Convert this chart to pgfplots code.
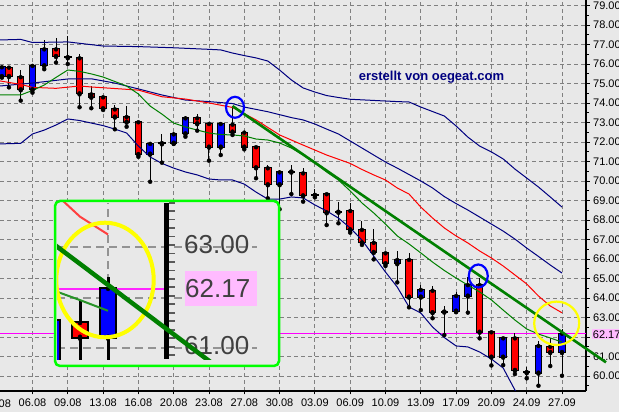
\documentclass[border=0pt]{standalone}
\usepackage{fontspec}
\setmainfont{Liberation Sans}
\usepackage{pgfplots}
\usepackage{pgfplotstable}
\pgfplotsset{compat=1.18}

\definecolor{bg}{RGB}{232,232,232}
\definecolor{navyc}{RGB}{0,0,128}
\definecolor{gridc}{RGB}{128,128,128}
\definecolor{grn}{RGB}{0,128,0}
\definecolor{magc}{RGB}{255,0,255}
\definecolor{pinkc}{RGB}{255,187,255}
\definecolor{lime}{RGB}{0,255,0}
\definecolor{yel}{RGB}{255,255,0}
\definecolor{cblue}{RGB}{0,0,255}
\definecolor{cred}{RGB}{255,0,0}
\definecolor{insettxt}{RGB}{64,64,64}

% candles: index, open, high, low, close
\pgfplotstableread{
i o h l c
-2.6 75.38 75.90 75.30 75.83
-2 75.81 75.83 74.80 75.38
-1 75.32 75.69 74.12 74.70
0 74.70 75.95 74.53 75.90
1 75.93 77.23 75.73 76.75
2 76.75 77.32 76.07 76.41
3 76.34 77.43 76.00 76.34
4 76.29 76.51 73.78 74.49
5 74.44 74.87 73.73 74.32
6 74.29 74.29 73.64 73.73
7 73.67 73.88 72.65 73.30
8 73.28 73.84 72.78 73.04
9 73.01 73.10 71.24 71.38
10 71.40 72.01 69.96 71.90
11 71.93 72.41 70.94 71.93
12 71.96 72.53 71.90 72.39
13 72.44 73.33 72.27 73.21
14 73.21 73.42 72.58 72.96
15 72.92 72.92 71.04 71.76
16 71.76 73.04 71.33 72.92
17 72.89 73.84 72.36 72.53
18 72.48 72.58 71.62 71.76
19 71.73 71.79 70.14 70.70
20 70.65 70.82 69.11 69.83
21 69.83 70.56 68.55 70.44
22 70.48 70.82 69.33 70.48
23 70.39 70.65 68.94 69.26
24 69.28 69.57 69.16 69.28
25 69.32 69.40 67.74 68.39
26 68.42 68.94 67.83 68.42
27 68.46 68.85 67.35 67.52
28 67.49 67.95 66.72 66.85
29 66.83 67.54 65.98 66.36
30 66.29 66.29 65.64 65.78
31 65.78 66.41 64.80 65.95
32 65.95 66.29 63.52 64.07
33 64.07 64.67 63.38 64.41
34 64.37 64.62 62.96 63.27
35 63.30 63.59 62.10 63.30
36 63.35 64.32 63.27 64.10
37 64.12 65.09 63.25 64.66
38 64.66 65.04 61.93 62.27
39 62.24 62.24 60.54 60.99
40 60.99 61.95 60.56 61.93
41 61.93 62.19 60.10 60.31
42 60.19 60.45 59.88 60.19
43 60.17 61.80 59.50 61.54
44 61.50 61.95 60.51 61.23
45 61.23 62.40 60.01 62.17
}\candles

% upper band
\pgfplotstableread{
i p
-2.76 77.23
-1 77.26
0 77.10
3 77.13
6 76.92
9 76.89
12 76.83
15 76.75
16 76.72
17 76.56
18 76.43
19 76.31
20 76.15
21 75.69
22 75.18
23 74.77
24 74.56
25 74.38
26 74.28
27 74.19
29 74.13
31 74.07
32 74.05
33 73.79
34 73.56
35 73.33
36 72.82
37 72.25
38 71.79
39 71.49
40 71.13
41 70.61
42 70.15
43 69.69
44 69.18
45 68.66
}\bandup

% middle band
\pgfplotstableread{
i p
-2.76 74.87
0 75.02
3 75.23
5 75.24
7 75.02
9 74.72
11 74.41
13 74.15
15 74.07
17 73.97
18 73.79
20 73.55
22 73.25
23 73.13
24 72.92
25 72.66
26 72.41
27 72.05
28 71.69
29 71.33
30 70.97
31 70.66
32 70.33
33 70.00
34 69.64
35 69.20
36 68.84
37 68.51
38 68.15
39 67.79
40 67.43
41 67.02
42 66.56
43 66.13
44 65.69
45 65.28
}\bandmid

% lower band
\pgfplotstableread{
i p
-2.76 71.90
-1 71.93
0 72.41
1 72.61
2 72.87
3 73.18
4 73.10
5 72.97
6 72.84
7 72.66
8 72.46
9 71.79
10 71.23
11 70.90
12 70.66
13 70.46
14 70.31
15 70.10
16 70.05
17 70.05
18 69.84
19 69.43
20 69.07
21 69.07
22 69.18
23 69.13
24 68.77
25 68.46
26 68.10
27 67.59
28 66.97
29 66.15
30 65.33
31 64.56
32 63.54
33 63.23
34 62.51
35 61.97
36 61.54
37 61.49
38 61.23
39 60.87
40 60.41
41 59.28
41.05 59.23
}\bandlow

% red moving average
\pgfplotstableread{
i p
-2.76 75.13
-1 74.95
0 74.80
2 74.75
4 74.87
5 74.82
7 74.74
9 74.66
11 74.32
13 74.20
15 74.00
17 73.77
19 73.13
21 72.36
23 71.84
25 71.33
27 70.90
28 70.59
29 70.31
30 70.05
31 69.64
32 69.33
33 68.66
34 68.10
35 67.59
36 67.18
37 66.82
38 66.41
39 66.05
40 65.64
41 65.18
42 64.72
43 64.10
44 63.59
45 63.24
}\redma

% green moving average
\pgfplotstableread{
i p
-2.76 74.41
-1 74.41
0 74.64
1 74.92
2 75.31
3 75.69
4 75.62
5 75.49
6 75.33
7 75.10
8 74.87
9 74.46
10 73.84
11 73.43
12 72.97
13 72.77
14 72.61
15 72.46
16 72.38
17 72.36
18 72.31
19 72.15
20 72.10
21 71.95
22 71.69
23 71.33
24 70.92
25 70.46
26 70.05
27 69.49
28 68.87
29 68.36
30 67.79
31 67.18
32 66.77
33 66.31
34 65.84
35 65.41
36 65.02
37 64.66
38 64.31
39 63.90
40 63.38
41 62.87
42 62.41
43 62.15
44 61.95
45 61.74
}\greenma

% trend line
\pgfplotstableread{
i p
17 73.84
48.74 60.70
}\trend

% support line
\pgfplotstableread{
i p
-2.76 62.178
47.04 62.178
}\support

\pgfplotsset{
  wicks/.style={only marks, mark=none,
    error bars/.cd, y dir=plus, y explicit, error mark=none,
    error bar style={black, line width=#1}},
  bodies/.style 2 args={only marks, mark=none,
    error bars/.cd, y dir=plus, y explicit, error mark=none,
    error bar style={#1, line width=#2}},
}

\begin{document}
\begin{tikzpicture}
\path[use as bounding box] (0,0) rectangle (619bp,412bp);
\fill[bg] (0,0) rectangle (619bp,412bp);

\begin{axis}[
  at={(0,21bp)}, anchor=south west,
  scale only axis, width=586bp, height=391bp,
  xmin=-2.76, xmax=47.04, ymin=59.23, ymax=79.28,
  axis x line*=bottom, axis y line*=right,
  axis line style={line width=2.6bp, black},
  xtick={0,3,...,45},
  xticklabels={06.08,09.08,13.08,16.08,20.08,23.08,27.08,30.08,03.09,06.09,10.09,13.09,17.09,20.09,24.09,27.09},
  ytick={60,61,...,79},
  yticklabels={60.00,61.00,{},63.00,64.00,65.00,66.00,67.00,68.00,69.00,70.00,71.00,72.00,73.00,74.00,75.00,76.00,77.00,78.00,79.00},
  minor ytick={59.5,60.5,...,78.5},
  tick align=outside,
  major tick length=3.5bp, minor tick length=3bp,
  tick style={black, line width=0.8bp},
  tick label style={font=\fontsize{11bp}{13bp}\selectfont, text=black},
  xticklabel style={anchor=north, inner sep=0pt, yshift=-4.5bp},
  yticklabel style={anchor=west, inner sep=0pt, xshift=3.5bp},
  grid=major,
  major grid style={gridc, line width=0.8bp, dash pattern=on 4bp off 3bp},
]
\addplot[draw=magc, line width=1.3bp] table[x=i, y=p] {\support};
% wicks
\addplot[wicks=1bp] table[x=i, y=l, y error plus expr={\thisrow{h}-\thisrow{l}}] {\candles};
% black body outline
\addplot[bodies={black}{7.5bp}] table[x=i, y expr={min(\thisrow{o},\thisrow{c})-0.05}, y error plus expr={abs(\thisrow{c}-\thisrow{o})+0.1}] {\candles};
% red bodies
\addplot[bodies={cred}{5.5bp}] table[x=i, y=c, y error plus expr={max(\thisrow{o}-\thisrow{c},0)}] {\candles};
% blue bodies
\addplot[bodies={cblue}{5.5bp}] table[x=i, y=o, y error plus expr={max(\thisrow{c}-\thisrow{o},0)}] {\candles};
% bands and averages
\addplot[navyc, line width=1bp] table[x=i, y=p] {\bandup};
\addplot[navyc, line width=1bp] table[x=i, y=p] {\bandmid};
\addplot[navyc, line width=1bp] table[x=i, y=p] {\bandlow};
\addplot[cred, line width=1bp] table[x=i, y=p] {\redma};
\addplot[grn, line width=1bp] table[x=i, y=p] {\greenma};
\end{axis}

% trend line, running past the price axis
\begin{axis}[
  at={(0,21bp)}, anchor=south west,
  scale only axis, width=586bp, height=391bp,
  xmin=-2.76, xmax=47.04, ymin=59.23, ymax=79.28,
  hide axis, clip=false,
]
\addplot[grn, line width=2.6bp] table[x=i, y=p] {\trend};
\end{axis}

\begin{scope}[x=1bp, y=-1bp, yshift=412bp]
  \node[anchor=center, inner sep=0pt, font=\fontsize{11bp}{13bp}\selectfont] at (-2.8,403.3) {02.08};
  \draw[cblue, line width=2.2bp] (235,107.3) ellipse [x radius=9, y radius=10.5];
  \draw[cblue, line width=2.2bp] (478.3,276) ellipse [x radius=9.5, y radius=11.5];
  \draw[yel, line width=2.2bp] (556.7,323.3) ellipse [x radius=22.5, y radius=21.7];
  \fill[pinkc] (591.7,329.3) rectangle (622,339.3);
  \node[anchor=west, inner sep=0pt, font=\fontsize{11bp}{13bp}\selectfont] at (592.7,334.3) {62.17};
  \node[anchor=base west, inner sep=0pt, text=navyc, font=\bfseries\fontsize{13bp}{15bp}\selectfont] at (358.7,80.7) {erstellt von oegeat.com};
  % inset background
  \fill[bg, rounded corners=5] (55,201) rectangle (279,366);
\end{scope}

% inset: magnified view of the last candles
\begin{axis}[
  at={(57bp,52bp)}, anchor=south west,
  scale only axis, width=200bp, height=157bp,
  xmin=43.179, xmax=50.321, ymin=60.772, ymax=63.859,
  axis line style={draw=none}, tick style={draw=none},
  xtick={45}, ytick={61,62,63}, xticklabels={}, yticklabels={},
  grid=major,
  major grid style={gridc!85!white, line width=2bp, dash pattern=on 8bp off 5bp},
]
\addplot[draw=magc!85!white, line width=2.5bp] coordinates {(43,62.17) (47.1,62.17)};
\addplot[wicks=3bp] table[x=i, y=l, y error plus expr={\thisrow{h}-\thisrow{l}}] {\candles};
\addplot[bodies={black}{17.5bp}] table[x=i, y expr={min(\thisrow{o},\thisrow{c})-0.04}, y error plus expr={abs(\thisrow{c}-\thisrow{o})+0.08}] {\candles};
\addplot[bodies={cred}{13.5bp}] table[x=i, y=c, y error plus expr={max(\thisrow{o}-\thisrow{c},0)}] {\candles};
\addplot[bodies={cblue}{13.5bp}] table[x=i, y=o, y error plus expr={max(\thisrow{c}-\thisrow{o},0)}] {\candles};
\addplot[cred!75!white, line width=2bp] table[x=i, y=p] {\redma};
\addplot[grn!85!white, line width=2bp] table[x=i, y=p] {\greenma};
\end{axis}

\begin{scope}[x=1bp, y=-1bp, yshift=412bp]
  \begin{scope}
    \clip (57,203) rectangle (257,360);
    \draw[yel, line width=4bp] (105,280) ellipse [x radius=48.7, y radius=57.3];
    \fill[black] (164.2,203) rectangle (169.2,359);
    \foreach \k in {-5,...,13} {
      \draw[black!65, line width=1.8bp] (169,245+8.47*\k) -- (174.5,245+8.47*\k);
    }
    \fill[pinkc] (185,270.7) rectangle (257,306);
    \node[anchor=west, inner sep=0pt, text=insettxt, font=\fontsize{26bp}{30bp}\selectfont] at (184,245) {63.00};
    \node[anchor=west, inner sep=0pt, text=insettxt, font=\fontsize{26bp}{30bp}\selectfont] at (185,288.5) {62.17};
    \node[anchor=west, inner sep=0pt, text=insettxt, font=\fontsize{26bp}{30bp}\selectfont] at (184,346) {61.00};
  \end{scope}
\end{scope}

\begin{axis}[
  at={(57bp,52bp)}, anchor=south west,
  scale only axis, width=200bp, height=157bp,
  xmin=43.179, xmax=50.321, ymin=60.772, ymax=63.859,
  hide axis,
]
\addplot[grn, line width=4.5bp] table[x=i, y=p] {\trend};
\end{axis}

\begin{scope}[x=1bp, y=-1bp, yshift=412bp]
  \draw[lime, line width=2.5bp, rounded corners=5] (55,201) rectangle (279,366);
\end{scope}
\end{tikzpicture}
\end{document}
